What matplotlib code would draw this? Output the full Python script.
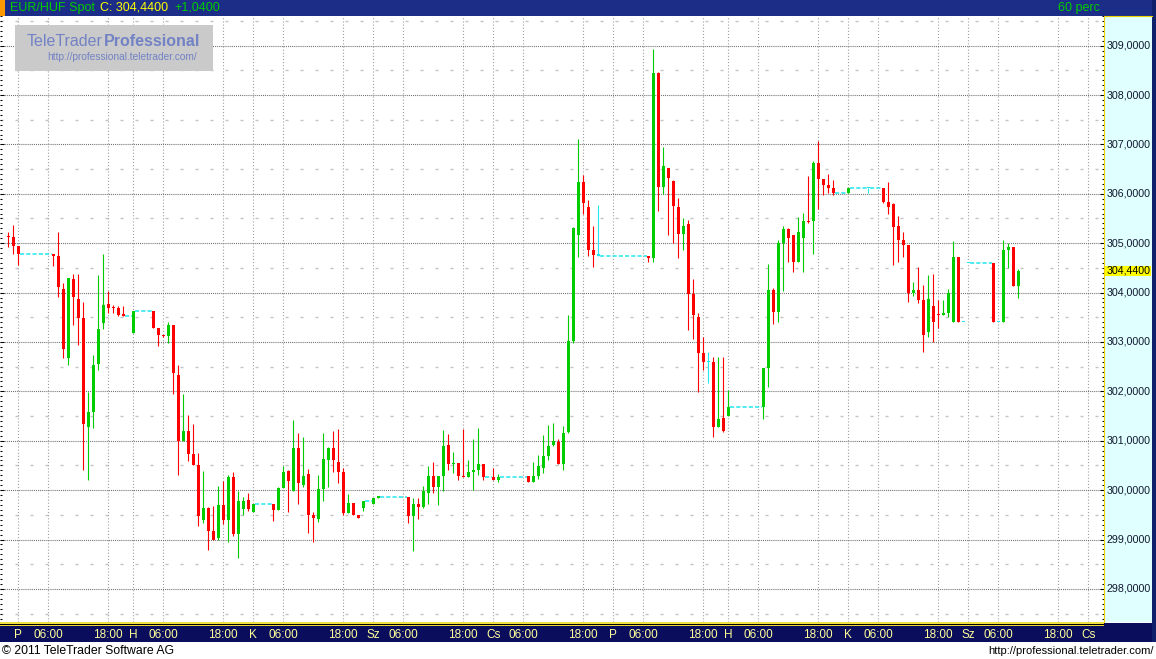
import numpy as np
import matplotlib.pyplot as plt
from matplotlib.patches import Rectangle

plt.rcParams['font.family'] = ['Liberation Sans', 'DejaVu Sans']
plt.rcParams['lines.scale_dashes'] = False

N = None  # hour without quotes

# EUR/HUF hourly candles (60 perc)
opens = [305.14, 305.13, 304.94, N, N, N, N, N, N, 304.79,
         304.75, 304.07, 302.68, 304.27, 303.88, 303.48, 301.27, 301.59, 302.56, 303.39,
         303.76, 303.70, 303.68, 303.56, N, 303.19, N, N, N, 303.62,
         303.28, 303.14, 303.12, 303.34, 302.33, 301.00, 301.19, 300.73, 300.50, 299.40,
         299.63, 299.17, 299.03, 299.69, 299.40, 300.26, 299.12, 299.61, 299.81, 299.55,
         N, N, N, 299.71, 299.59, 300.04, 300.38, 299.98, 300.86, 300.10,
         300.32, 299.49, 299.42, 300.02, 300.62, 300.86, 300.56, 300.36, 299.53, 299.73,
         299.49, 299.63, N, 299.71, 299.85, N, N, N, N, N,
         299.87, 299.47, 299.71, 299.65, 299.94, 300.28, 300.06, 300.28, 300.92, 300.52,
         300.54, 300.28, 300.26, 300.36, 300.40, 300.52, N, 300.26, 300.20, N,
         N, N, N, N, 300.28, 300.16, 300.28, 300.44, 300.70, 300.92,
         300.98, 300.52, 301.17, 303.02, 305.16, 306.24, 305.74, 304.87, 304.75, N,
         N, N, N, N, N, N, N, N, 304.75, 304.69,
         308.44, 306.14, 306.53, 306.26, 305.74, 305.18, 305.38, 303.97, 303.50, 302.78,
         302.59, 302.60, 301.28, 301.47, 301.51, N, N, N, N, N,
         N, 301.69, 302.47, 304.05, 303.60, 305.01, 305.28, 305.16, 304.61, 305.11,
         305.45, 305.44, 306.63, 306.30, 306.18, 306.12, N, N, 306.02, N,
         N, N, 306.12, N, N, 306.12, 305.84, 305.80, 305.34, 305.07,
         304.97, 303.99, 304.05, 303.84, 303.20, 303.72, 303.56, 303.54, 303.58, 303.41,
         304.73, 303.41, 304.59, N, N, N, N, 304.59, 303.41, 303.41,
         304.87, 304.93, 304.13]

highs = [305.22, 305.36, 304.94, N, N, N, N, N, N, 304.79,
         305.22, 304.19, 304.29, 304.37, 304.37, 303.80, 301.99, 302.74, 304.35, 304.79,
         304.04, 303.74, 303.72, 303.72, N, 303.62, N, N, N, 303.62,
         303.28, 303.15, 303.40, 303.34, 302.53, 301.95, 301.53, 301.33, 300.75, 300.38,
         299.65, 299.67, 300.08, 300.18, 300.30, 300.36, 299.99, 299.87, 299.94, 299.71,
         N, N, N, 299.71, 300.06, 300.48, 300.40, 301.43, 301.15, 301.08,
         300.42, 299.55, 300.30, 301.15, 300.88, 301.19, 301.23, 300.44, 299.92, 299.73,
         299.49, 299.79, N, 299.85, 299.87, N, N, N, N, N,
         299.87, 299.85, 299.85, 300.08, 300.48, 300.56, 300.28, 301.21, 301.13, 300.78,
         300.54, 301.23, 300.62, 301.04, 301.25, 300.52, N, 300.44, 300.32, N,
         N, N, N, N, 300.28, 300.56, 300.72, 301.11, 301.31, 301.35,
         301.04, 301.29, 303.54, 305.33, 307.11, 306.38, 305.88, 305.34, 305.77, N,
         N, N, N, N, N, N, N, N, 304.75, 308.93,
         308.46, 306.95, 306.53, 306.28, 305.92, 305.50, 305.46, 304.27, 303.58, 303.10,
         302.80, 302.70, 302.70, 302.70, 302.03, N, N, N, N, N,
         N, 302.47, 304.57, 304.09, 305.07, 305.34, 305.30, 305.16, 305.54, 305.62,
         306.36, 306.67, 307.07, 306.30, 306.40, 306.28, N, N, 306.12, N,
         N, N, 306.12, N, N, 306.12, 306.24, 305.82, 305.56, 305.22,
         304.97, 304.21, 304.51, 304.15, 304.35, 304.37, 303.84, 303.84, 304.07, 305.05,
         304.73, 303.41, 304.59, N, N, N, N, 304.59, 303.41, 305.07,
         305.01, 304.93, 304.47]

lows = [304.92, 304.79, 304.56, N, N, N, N, N, N, 304.54,
        303.91, 302.68, 302.54, 303.35, 302.94, 300.40, 300.20, 301.25, 302.44, 303.27,
        303.58, 303.58, 303.52, 303.52, N, 303.19, N, N, N, 303.29,
        302.92, 303.10, 302.98, 301.94, 300.30, 301.00, 300.58, 300.50, 299.27, 299.34,
        298.79, 298.99, 299.00, 299.32, 298.95, 299.07, 298.63, 299.49, 299.57, 299.55,
        N, N, N, 299.37, 299.59, 300.04, 299.55, 299.98, 299.71, 300.06,
        299.13, 298.95, 299.36, 299.79, 300.06, 300.36, 300.14, 299.49, 299.53, 299.49,
        299.44, 299.57, N, 299.71, 299.85, N, N, N, N, N,
        299.33, 298.77, 299.41, 299.63, 299.71, 299.94, 299.69, 299.99, 300.40, 300.34,
        300.20, 300.26, 300.26, 300.01, 300.30, 300.20, N, 300.20, 300.16, N,
        N, N, N, N, 300.16, 300.16, 300.22, 300.34, 300.62, 300.90,
        300.52, 300.40, 301.15, 302.98, 304.72, 305.60, 304.74, 304.52, 304.75, N,
        N, N, N, N, N, N, N, N, 304.61, 304.61,
        305.66, 306.00, 305.16, 305.01, 304.71, 304.87, 303.24, 303.06, 301.99, 302.43,
        302.16, 301.07, 301.28, 301.18, 301.51, N, N, N, N, N,
        N, 301.45, 302.09, 303.36, 303.40, 304.03, 304.61, 304.41, 304.61, 304.41,
        305.40, 304.79, 305.70, 305.98, 306.02, 305.98, N, N, 306.02, N,
        N, N, 306.02, N, N, 305.82, 305.60, 304.55, 304.61, 304.73,
        303.80, 303.93, 303.78, 302.80, 303.10, 303.00, 303.28, 303.54, 303.51, 303.41,
        303.41, 303.41, 304.59, N, N, N, N, 303.41, 303.41, 303.41,
        304.49, 304.13, 303.90]

closes = [305.12, 304.94, 304.79, N, N, N, N, N, N, 304.75,
          304.11, 302.86, 304.29, 303.91, 303.48, 301.33, 301.59, 302.53, 303.26, 303.74,
          303.68, 303.68, 303.55, 303.52, N, 303.62, N, N, N, 303.29,
          303.15, 303.12, 303.34, 302.37, 301.00, 301.20, 300.73, 300.50, 299.47, 299.63,
          299.17, 298.99, 299.69, 299.40, 300.26, 299.12, 299.77, 299.79, 299.61, 299.71,
          N, N, N, 299.59, 300.04, 300.36, 300.18, 300.86, 300.14, 300.28,
          299.49, 299.44, 300.02, 300.64, 300.86, 300.60, 300.36, 299.53, 299.73, 299.49,
          299.44, 299.79, N, 299.85, 299.87, N, N, N, N, N,
          299.47, 299.71, 299.65, 299.99, 300.28, 300.06, 300.28, 300.90, 300.52, 300.54,
          300.28, 300.26, 300.36, 300.40, 300.52, 300.26, N, 300.20, 300.26, N,
          N, N, N, N, 300.16, 300.28, 300.48, 300.70, 300.90, 301.00,
          300.52, 301.15, 303.02, 305.30, 306.24, 305.82, 304.87, 304.76, 304.75, N,
          N, N, N, N, N, N, N, N, 304.69, 308.44,
          306.14, 306.57, 306.33, 305.76, 305.18, 305.34, 303.97, 303.54, 302.78, 302.60,
          302.59, 301.28, 301.45, 301.20, 301.69, N, N, N, N, N,
          N, 302.47, 304.05, 303.60, 305.01, 305.28, 305.10, 304.61, 305.22, 305.44,
          305.43, 306.63, 306.30, 306.18, 306.12, 306.02, N, N, 306.12, N,
          N, N, 306.12, N, N, 305.84, 305.74, 305.32, 305.07, 304.97,
          303.99, 304.05, 303.84, 303.14, 303.88, 303.41, 303.55, 303.58, 303.99, 304.73,
          303.41, 303.41, 304.59, N, N, N, N, 303.41, 303.41, 304.87,
          304.93, 304.13, 304.44]

tick_pos = [2, 8, 20, 25, 31, 43, 49, 55, 67, 73, 79, 91, 97, 103,
            115, 121, 127, 139, 144, 150, 162, 168, 174, 186, 192, 198, 210, 216]
tick_labels = ['P', '06:00', '18:00', 'H', '06:00', '18:00', 'K', '06:00', '18:00', 'Sz',
               '06:00', '18:00', 'Cs', '06:00', '18:00', 'P', '06:00', '18:00', 'H', '06:00',
               '18:00', 'K', '06:00', '18:00', 'Sz', '06:00', '18:00', 'Cs']
change_text = '+1,0400'

GREEN = '#00cc00'
RED = '#ff0000'
CYAN = '#22e6ee'

W, H = 1156, 659
fig = plt.figure(figsize=(W / 100, H / 100), dpi=100)


def box(x0, y0, x1, y1):
    return [x0 / W, 1 - y1 / H, (x1 - x0) / W, (y1 - y0) / H]


def fig_rect(x0, y0, x1, y1, color, z):
    b = box(x0, y0, x1, y1)
    fig.patches.append(Rectangle((b[0], b[1]), b[2], b[3], transform=fig.transFigure,
                                 facecolor=color, edgecolor='none', zorder=z))


# frame: header, time axis bar, right border
fig_rect(0, 0, W, 16, '#1b2d86', -5)
fig_rect(0, 0, 5, 16, '#ff9900', -4)
fig_rect(0, 623, W, 642, '#0a0c5c', -5)
fig_rect(0, 622, 1104, 623.5, '#f0e040', 2)
fig_rect(0, 623.5, 1104, 625, '#000000', 2)
fig_rect(0, 625, 1104, 626, '#e8d838', 2)
fig_rect(1152, 0, W, 642, '#10206a', -5)

ax = fig.add_axes(box(0, 16, 1104, 622))
axr = fig.add_axes(box(1104, 16, 1152, 622), sharey=ax)

ax.set_xlim(-1.667, 219.13)
ax.set_ylim(297.33, 309.55)
ax.set_axisbelow(True)

# grid
ax.set_yticks(np.arange(298, 310))
ax.set_yticks(np.arange(297.4, 309.6, 0.1), minor=True)
ax.yaxis.grid(True, which='major', color='#707070', linestyle=(0, (0.75, 0.75)), lw=0.8)
for v in np.arange(297.5, 309.6, 1.0):
    ax.axhline(v, color='#c4c4c4', lw=1.0, dashes=(2.2, 8.6), zorder=0.5)
ax.set_xticks(tick_pos, tick_labels)
ax.xaxis.grid(True, color='#9a9a9a', linestyle=(0, (0.75, 1.5)), lw=0.8)
ax.tick_params(axis='x', length=0, pad=5, labelsize=8.5, labelcolor='#ffff99')
ax.tick_params(axis='y', which='major', direction='in', length=3, width=0.75, labelleft=False)
ax.tick_params(axis='y', which='minor', direction='in', length=1.7, width=0.75)
for s in ax.spines.values():
    s.set_visible(False)

# candles
xs, lo, hi, bot, hgt, cols = [], [], [], [], [], []
for i in range(len(closes)):
    if closes[i] is None:
        continue
    o, c = opens[i], closes[i]
    if c > o:
        col = GREEN
    elif c < o:
        col = RED
    else:
        col = CYAN
    xs.append(i)
    lo.append(lows[i])
    hi.append(highs[i])
    bot.append(min(o, c))
    hgt.append(max(abs(c - o), 0.022))
    cols.append(col)
ax.vlines(xs, lo, hi, colors=cols, lw=0.8, zorder=3)
ax.bar(xs, hgt, bottom=bot, width=0.62, color=cols, linewidth=0, zorder=4)

# hours without quotes: dashed line at last close
i = 0
while i < len(closes):
    if closes[i] is None:
        j = i
        while closes[j] is None:
            j += 1
        ax.plot([i - 1 + 0.35, j - 0.35], [closes[i - 1]] * 2, color=CYAN, lw=1.1,
                dashes=(3, 1.5), zorder=2)
        i = j
    i += 1

# price scale on the right
axr.set_facecolor('#e0ffff')
axr.set_xticks([])
axr.tick_params(axis='y', which='both', left=True, right=False, labelleft=False,
                direction='out', width=0.75)
axr.tick_params(axis='y', which='major', length=3)
axr.tick_params(axis='y', which='minor', length=1.7)
for s in axr.spines.values():
    s.set_visible(False)
axr.spines['left'].set_visible(True)
axr.spines['left'].set_color('#f0d000')
axr.spines['top'].set_visible(True)
axr.spines['top'].set_color('#f0d000')
yt = axr.get_yaxis_transform()
for v in range(298, 310):
    axr.text(0.05, v, f'{v:.4f}'.replace('.', ','), transform=yt, ha='left', va='center',
             fontsize=7.7, color='#101830')
last = closes[-1]
axr.add_patch(Rectangle((0.0, last - 0.1), 0.97, 0.2, transform=yt, facecolor='#ffff00',
                        edgecolor='none'))
axr.text(0.05, last, f'{last:.4f}'.replace('.', ','), transform=yt, ha='left', va='center',
         fontsize=7.7, color='black')

# header
hy = 1 - 8 / H
fig.text(10 / W, hy, 'EUR/HUF Spot', color=GREEN, fontsize=9, va='center')
fig.text(100 / W, hy, 'C: ' + f'{last:.4f}'.replace('.', ','), color='#ffff00', fontsize=9,
         va='center')
fig.text(174 / W, hy, change_text, color=GREEN, fontsize=9, va='center')
fig.text(1100 / W, hy, '60 perc', color=GREEN, fontsize=9, va='center', ha='right')

# watermark
fig_rect(15, 25, 213, 71, '#cacaca', 5)
fig.text(27 / W, 1 - 41 / H, 'TeleTrader', color='#7282c4', fontsize=11.5, va='center', zorder=6)
fig.text(104 / W, 1 - 41 / H, 'Professional', color='#7282c4', fontsize=11.5,
         fontweight='bold', va='center', zorder=6)
fig.text(47 / W, 1 - 57 / H, 'http://professional.teletrader.com/', color='#7282c4',
         fontsize=7.3, va='center', zorder=6)

# footer
fig.text(2 / W, 1 - 651 / H, '© 2011 TeleTrader Software AG', fontsize=8.8, va='center')
fig.text(1154 / W, 1 - 651 / H, 'http://professional.teletrader.com/', fontsize=8,
         va='center', ha='right')

fig.savefig('out.png', dpi=100)
